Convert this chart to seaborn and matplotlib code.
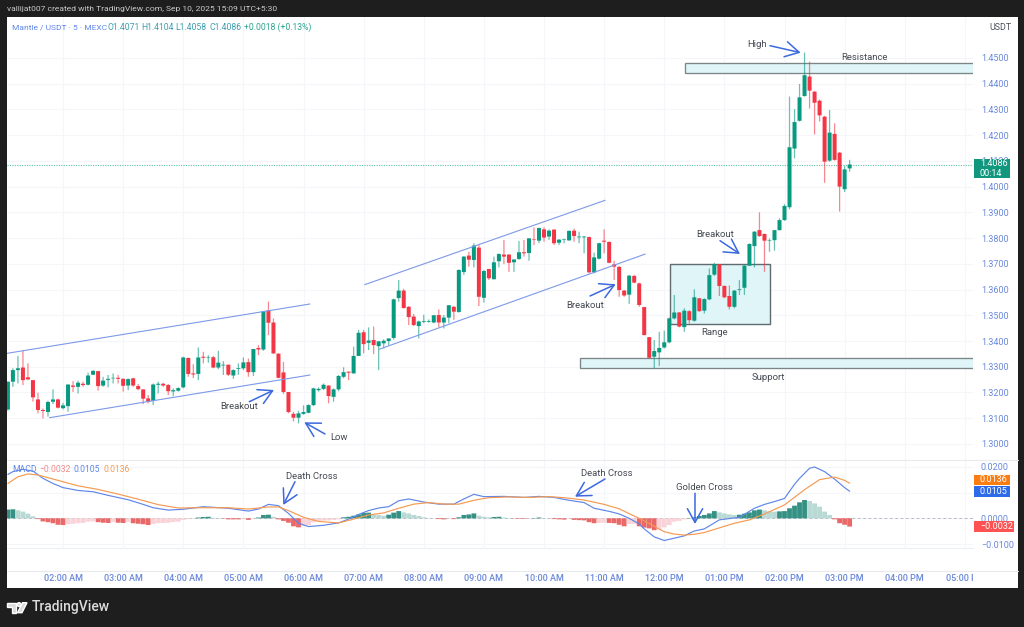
import matplotlib
matplotlib.use("Agg")
import matplotlib.pyplot as plt
from matplotlib.patches import Rectangle, Polygon, Circle
from matplotlib.transforms import Bbox
import numpy as np
import pandas as pd
import seaborn as sns

# candles, 5 minute bars (first bar is 01:05 AM)
opens = [
    1.3134,1.3242,1.3287,1.3297,1.3259,1.3248,1.3173,1.3132,1.3124,1.3164,
    1.3173,1.3139,1.3147,1.3227,1.3222,1.3234,1.3230,1.3269,1.3283,1.3227,
    1.3249,1.3255,1.3257,1.3253,1.3227,1.3255,1.3225,1.3212,1.3177,1.3167,
    1.3230,1.3234,1.3229,1.3204,1.3207,1.3220,1.3334,1.3274,1.3272,1.3339,
    1.3334,1.3337,1.3297,1.3305,1.3308,1.3266,1.3292,1.3294,1.3318,1.3279,
    1.3373,1.3367,1.3519,1.3472,1.3351,1.3278,1.3202,1.3117,1.3102,1.3117,
    1.3121,1.3151,1.3209,1.3214,1.3227,1.3183,
    1.3212,1.3261,1.3281,1.3274,1.3342,1.3434,1.3393,1.3404,1.3380,1.3391,
    1.3400,1.3412,1.3567,1.3596,1.3533,1.3495,1.3458,1.3475,1.3475,1.3472,
    1.3501,1.3472,1.3491,1.3533,1.3513,1.3668,1.3732,1.3715,1.3763,1.3568,
    1.3680,1.3640,1.3710,1.3736,1.3736,1.3706,1.3719,1.3745,1.3742,1.3796,
    1.3790,1.3834,1.3806,1.3833,1.3782,1.3793,1.3791,1.3829,1.3803,1.3803,
    1.3804,1.3667,1.3720,1.3790,1.3785,1.3698,1.3688,1.3596,1.3580,1.3653,
    1.3624,1.3532,
    1.3415,1.3339,1.3356,1.3375,1.3395,1.3488,1.3511,1.3454,1.3516,1.3479,
    1.3566,1.3518,1.3562,1.3658,1.3698,1.3614,1.3575,1.3533,1.3598,1.3607,
    1.3693,1.3769,1.3831,1.3816,1.3790,1.3792,1.3831,1.3870,
    1.3920,1.4148,1.4256,1.4352,1.4428,1.4369,1.4334,1.4272,1.4101,1.4205,1.4132,1.3990,1.4071,
]
highs = [
    1.3242,1.3294,1.3342,1.3365,1.3313,1.3248,1.3199,1.3138,1.3168,1.3212,
    1.3176,1.3160,1.3231,1.3244,1.3246,1.3242,1.3277,1.3287,1.3283,1.3261,
    1.3268,1.3274,1.3268,1.3255,1.3255,1.3257,1.3233,1.3212,1.3190,1.3235,
    1.3242,1.3238,1.3233,1.3216,1.3220,1.3339,1.3336,1.3310,1.3375,1.3358,
    1.3345,1.3342,1.3362,1.3322,1.3308,1.3290,1.3313,1.3336,1.3332,1.3369,
    1.3384,1.3516,1.3553,1.3488,1.3352,1.3319,1.3202,1.3125,1.3129,1.3150,
    1.3154,1.3218,1.3220,1.3235,1.3227,1.3216,
    1.3268,1.3298,1.3281,1.3378,1.3443,1.3443,1.3453,1.3456,1.3399,1.3406,
    1.3410,1.3565,1.3637,1.3603,1.3536,1.3505,1.3479,1.3502,1.3484,1.3502,
    1.3523,1.3501,1.3540,1.3536,1.3679,1.3730,1.3747,1.3780,1.3773,1.3676,
    1.3680,1.3728,1.3741,1.3793,1.3738,1.3717,1.3789,1.3793,1.3799,1.3841,
    1.3841,1.3842,1.3834,1.3834,1.3796,1.3798,1.3830,1.3837,1.3825,1.3808,
    1.3806,1.3743,1.3782,1.3834,1.3787,1.3712,1.3692,1.3598,1.3657,1.3657,
    1.3627,1.3533,
    1.3416,1.3404,1.3436,1.3440,1.3491,1.3579,1.3513,1.3527,1.3520,1.3601,
    1.3568,1.3566,1.3682,1.3704,1.3699,1.3616,1.3616,1.3598,1.3637,1.3695,
    1.3780,1.3827,1.3900,1.3818,1.3799,1.3831,1.3877,1.3932,
    1.4350,1.4301,1.4399,1.4521,1.4486,1.4372,1.4339,1.4275,1.4298,1.4246,1.4135,1.4080,1.4104,
]
lows = [
    1.3129,1.3222,1.3235,1.3229,1.3248,1.3164,1.3119,1.3099,1.3106,1.3155,
    1.3138,1.3134,1.3125,1.3202,1.3196,1.3222,1.3227,1.3268,1.3207,1.3222,
    1.3220,1.3235,1.3235,1.3203,1.3209,1.3222,1.3209,1.3155,1.3158,1.3151,
    1.3196,1.3222,1.3190,1.3186,1.3203,1.3216,1.3261,1.3256,1.3248,1.3313,
    1.3316,1.3294,1.3290,1.3268,1.3264,1.3253,1.3269,1.3287,1.3261,1.3264,
    1.3345,1.3362,1.3423,1.3349,1.3255,1.3194,1.3119,1.3087,1.3080,1.3113,
    1.3119,1.3147,1.3203,1.3209,1.3158,1.3164,
    1.3205,1.3255,1.3248,1.3274,1.3342,1.3352,1.3365,1.3349,1.3287,1.3371,
    1.3384,1.3406,1.3553,1.3527,1.3462,1.3458,1.3410,1.3469,1.3471,1.3469,
    1.3453,1.3449,1.3469,1.3482,1.3510,1.3657,1.3689,1.3686,1.3536,1.3549,
    1.3637,1.3640,1.3686,1.3699,1.3669,1.3669,1.3715,1.3728,1.3712,1.3773,
    1.3780,1.3786,1.3793,1.3773,1.3773,1.3780,1.3790,1.3786,1.3780,1.3741,
    1.3663,1.3663,1.3717,1.3741,1.3702,1.3637,1.3572,1.3572,1.3544,1.3624,
    1.3533,1.3422,
    1.3332,1.3294,1.3303,1.3371,1.3391,1.3484,1.3453,1.3436,1.3468,1.3475,
    1.3514,1.3507,1.3559,1.3653,1.3575,1.3566,1.3523,1.3527,1.3579,1.3579,
    1.3691,1.3686,1.3805,1.3669,1.3747,1.3751,1.3829,1.3867,
    1.3912,1.4110,1.4253,1.4350,1.4304,1.4203,1.4253,1.4015,1.4097,1.4101,1.3903,1.3979,1.4058,
]
closes = [
    1.3242,1.3287,1.3294,1.3248,1.3251,1.3181,1.3132,1.3128,1.3163,1.3173,
    1.3141,1.3150,1.3231,1.3222,1.3238,1.3229,1.3266,1.3284,1.3225,1.3246,
    1.3253,1.3257,1.3253,1.3226,1.3252,1.3227,1.3213,1.3176,1.3164,1.3231,
    1.3234,1.3227,1.3205,1.3209,1.3217,1.3336,1.3272,1.3270,1.3336,1.3335,
    1.3336,1.3297,1.3316,1.3308,1.3269,1.3287,1.3295,1.3317,1.3279,1.3369,
    1.3367,1.3516,1.3471,1.3352,1.3257,1.3202,1.3124,1.3102,1.3119,1.3124,
    1.3151,1.3216,1.3214,1.3230,1.3186,1.3212,
    1.3264,1.3279,1.3277,1.3342,1.3432,1.3388,1.3402,1.3384,1.3399,1.3401,
    1.3410,1.3562,1.3596,1.3528,1.3493,1.3462,1.3476,1.3478,1.3478,1.3500,
    1.3472,1.3491,1.3539,1.3514,1.3676,1.3728,1.3716,1.3771,1.3572,1.3672,
    1.3644,1.3706,1.3738,1.3728,1.3704,1.3717,1.3745,1.3741,1.3799,1.3794,
    1.3839,1.3802,1.3829,1.3780,1.3794,1.3795,1.3828,1.3808,1.3806,1.3806,
    1.3667,1.3725,1.3780,1.3786,1.3704,1.3689,1.3598,1.3577,1.3654,1.3627,
    1.3540,1.3423,
    1.3335,1.3361,1.3373,1.3395,1.3488,1.3511,1.3456,1.3518,1.3481,1.3570,
    1.3516,1.3563,1.3656,1.3699,1.3614,1.3570,1.3533,1.3596,1.3601,1.3693,
    1.3777,1.3825,1.3808,1.3790,1.3792,1.3831,1.3870,1.3925,
    1.4153,1.4251,1.4347,1.4433,1.4373,1.4326,1.4277,1.4097,1.4210,1.4104,1.4000,1.4067,1.4086,
]

# MACD histogram, one value a bar
hist_vals = [
    .0034,.0035,.0031,.0026,.0018,.0008,-.0003,-.0012,-.0015,-.0019,-.0025,-.0026,
    -.0023,-.0021,-.0019,-.0018,-.0013,-.0012,-.0015,-.0017,-.0018,-.0014,-.0017,-.0018,
    -.0014,-.0019,-.0021,-.0023,-.0026,-.0022,-.0019,-.0018,-.0017,-.0014,-.0013,-.0006,
    -.0003,-.0001,.0003,.0005,.0006,.0002,.0001,-.0001,-.0004,-.0004,-.0004,-.0003,
    -.0006,-.0001,.0003,.0013,.0014,.0006,-.0004,-.0010,-.0017,-.0031,-.0035,-.0028,
    -.0026,-.0015,-.0010,-.0009,-.0008,-.0006,-.0004,
    .0004,.0006,.0010,.0015,.0021,.0022,.0014,.0013,.0010,.0014,.0022,.0028,
    .0023,.0019,.0013,.0009,.0004,.0001,.0000,-.0003,-.0004,-.0001,-.0003,.0004,
    .0013,.0015,.0019,.0010,.0006,.0004,.0005,.0006,.0003,.0001,-.0001,-.0002,
    -.0002,-.0001,.0001,.0003,.0001,.0000,-.0003,-.0004,-.0005,-.0001,-.0006,-.0007,
    -.0008,-.0015,-.0019,-.0018,-.0017,-.0018,-.0019,-.0025,-.0031,-.0022,-.0021,-.0031,
    -.0036,-.0039,-.0046,-.0043,-.0035,-.0026,-.0013,-.0010,-.0004,.0001,.0004,.0009,
    .0013,.0019,.0028,.0023,.0019,.0015,.0013,.0014,.0018,.0023,.0031,.0034,
    .0031,.0027,.0026,.0027,.0028,.0039,.0049,.0062,.0071,.0067,.0058,.0045,
    .0026,.0013,-.0004,-.0019,-.0025,-.0032,
]

# MACD and signal lines, read at the bends
macd_bars = [-11,-10,-8,-6,-4,-2,0,3,6,9,13,16,18,21,24,28,33,37,39,41,43,45,47,49,52,55,
             57,59,61,63,65,67,69,72,75,78,80,82,84,88,92,95,98,101,104,106,109,111,113,115,
             116,118,120,122,124,126,128,131,135,138,140,142,144,146,147,149,150,152,154,156,157]
macd_vals = [.0170,.0181,.0190,.0183,.0155,.0135,.0119,.0108,.0103,.0089,.0072,.0054,.0041,.0032,.0035,
             .0045,.0039,.0028,.0036,.0054,.0049,.0019,-.0019,-.0032,-.0027,-.0018,
             -.0003,.0015,.0030,.0040,.0045,.0068,.0075,.0063,.0055,.0055,.0075,.0093,.0084,.0085,
             .0081,.0085,.0081,.0070,.0061,.0039,.0027,.0017,.0000,-.0022,
             -.0041,-.0072,-.0086,-.0077,-.0068,-.0049,-.0041,-.0006,.0004,.0039,.0054,.0065,.0077,
             .0132,.0155,.0194,.0199,.0181,.0152,.0119,.0105]
signal_bars = [-11,-9,-7,-5,-1,3,7,11,15,19,23,27,33,37,41,43,45,48,51,55,
               58,61,64,67,70,73,76,79,82,85,89,93,97,100,104,108,111,113,115,116,118,120,
               122,124,126,128,130,134,137,140,144,148,151,154,156,157]
signal_vals = [.0135,.0161,.0172,.0168,.0147,.0126,.0112,.0094,.0074,.0053,.0040,.0041,.0041,.0036,
               .0044,.0044,.0030,.0004,-.0012,-.0018,
               -.0003,.0013,.0021,.0039,.0055,.0061,.0055,.0055,.0070,.0080,.0083,.0081,.0084,.0080,
               .0071,.0054,.0037,.0018,.0000,-.0010,-.0031,-.0052,
               -.0061,-.0065,-.0062,-.0055,-.0043,-.0019,-.0006,.0017,.0052,.0111,.0150,.0160,.0147,.0136]

price_ticks = [1.30,1.31,1.32,1.33,1.34,1.35,1.36,1.37,1.38,1.39,1.40,1.41,1.42,1.43,1.44,1.45]
macd_ticks = [-0.01, 0.0, 0.01, 0.02]
hour_labels = ["02:00 AM","03:00 AM","04:00 AM","05:00 AM","06:00 AM","07:00 AM","08:00 AM","09:00 AM",
               "10:00 AM","11:00 AM","12:00 PM","01:00 PM","02:00 PM","03:00 PM","04:00 PM","05:00 PM"]
hour_bars = [12*n for n in range(len(hour_labels))]

last_price = 1.4086

# channels and zones, (bar, price)
channel_lines = [
    ((-11.2, 1.3352), (49.3, 1.3544)),
    ((-2.7, 1.3102), (49.3, 1.3268)),
    ((60.2, 1.3619), (108.2, 1.3947)),
    ((63.1, 1.3368), (116.2, 1.3738)),
]
resistance_zone = (124.2, 1.4441, 1.4479)
support_zone = (103.2, 1.3294, 1.3333)
range_box = (121.2, 141.1, 1.3466, 1.3699)

UP = "#089981"
DOWN = "#f23645"
BLUE_TXT = "#6a88dc"
ARROW = "#3c68e0"
NOTE = "#454a52"
GRID = "#f4f6fa"

sns.set_theme(style="white")
plt.rcParams["font.family"] = ["Roboto", "DejaVu Sans"]

W, H = 1024, 627
fig = plt.figure(figsize=(W/100, H/100), dpi=100, facecolor="#1e1e1e")


def rect(l, t, r, b):
    return [l/W, 1 - b/H, (r-l)/W, (b-t)/H]


panel = fig.add_axes(rect(7, 17, 1018, 588), facecolor="white")
panel.set_xticks([]); panel.set_yticks([])
sns.despine(ax=panel, left=True, bottom=True)

x_range = (-11.18, 181.62)

# price pane
ax = fig.add_axes(rect(7, 17, 973, 460), facecolor="white")
bars = np.arange(len(closes)) - 11
df = pd.DataFrame({"bar": bars, "open": opens, "high": highs, "low": lows, "close": closes})
df["col"] = np.where(df.close >= df.open, UP, DOWN)
wicks = ax.vlines(df.bar, df.low, df.high, colors=df.col, lw=0.9, alpha=0.6, zorder=3)
wicks.set_snap(False)
bodies = ax.bar(df.bar, (df.close - df.open).abs().clip(lower=0.00012), bottom=df[["open", "close"]].min(axis=1),
                width=0.8, color=df.col, zorder=4, linewidth=0)
for b in bodies:
    b.set_snap(False)
ax.axhline(last_price, color="#5cc2ae", lw=0.8, ls=(0, (1, 1.2)), zorder=2)

for (x0, y0), (x1, y1) in channel_lines:
    ax.plot([x0, x1], [y0, y1], color="#7d99e8", lw=0.8, zorder=5)
for x0, lo, hi in [resistance_zone, support_zone]:
    ax.add_patch(Rectangle((x0, lo), 200, hi-lo, facecolor="#dff5f8", edgecolor="#7a8688", lw=0.95, zorder=1))
ax.add_patch(Rectangle((range_box[0], range_box[2]), range_box[1]-range_box[0], range_box[3]-range_box[2],
                       facecolor="#dff5f8", edgecolor="#5f6b6d", lw=1.0, zorder=1))

ax.set_xlim(*x_range)
ax.set_ylim(1.29376, 1.46593)
ax.set_xticks(hour_bars)
ax.set_yticks(price_ticks)
ax.set_yticklabels(["%.4f" % t for t in price_ticks])
ax.yaxis.tick_right()
ax.tick_params(axis="y", length=0, pad=5.6, labelsize=6.5, labelcolor=BLUE_TXT)
ax.tick_params(axis="x", length=0, labelbottom=False)
ax.grid(True, color=GRID, lw=0.8)
ax.set_axisbelow(True)
sns.despine(ax=ax, left=True, bottom=True, top=True, right=True)

# MACD pane
ax2 = fig.add_axes(rect(7, 460, 973, 548), facecolor="white")
hist = np.array(hist_vals)
prev = np.r_[hist[0]-1, hist[:-1]]
state = np.where(hist >= 0, np.where(prev < hist, "up_strong", "up_weak"),
                 np.where(prev < hist, "down_weak", "down_strong"))
hdf = pd.DataFrame({"bar": bars, "hist": hist, "state": state})
sns.barplot(data=hdf, x="bar", y="hist", hue="state", native_scale=True, dodge=False, legend=False, width=0.96,
            palette={"up_strong": "#26a08f", "up_weak": "#b2dfd8", "down_weak": "#ffcdd2", "down_strong": "#ff5252"},
            linewidth=0, ax=ax2, zorder=3)
for p in ax2.patches:
    p.set_snap(False)
ax2.axhline(0, color="#b8bcc4", lw=0.7, ls=(0, (3, 2.5)), zorder=2)
sns.lineplot(x=macd_bars, y=macd_vals, color="#5f86e8", lw=0.85, estimator=None, ax=ax2, zorder=4)
sns.lineplot(x=signal_bars, y=signal_vals, color="#f59a52", lw=0.85, estimator=None, ax=ax2, zorder=5)
ax2.set_xlim(*x_range)
ax2.set_ylim(-0.01151, 0.02261)
ax2.set_xlabel(""); ax2.set_ylabel("")
ax2.set_xticks(hour_bars)
ax2.set_xticklabels(hour_labels)
ax2.set_yticks(macd_ticks)
ax2.set_yticklabels(["\u22120.0100", "0.0000", "", "0.0200"])
ax2.yaxis.tick_right()
ax2.tick_params(axis="y", length=0, pad=5.6, labelsize=6.5, labelcolor=BLUE_TXT)
ax2.tick_params(axis="x", length=0, pad=18.5, labelsize=6.5, labelcolor=BLUE_TXT)
for lab in ax2.get_xticklabels():
    lab.set_fontweight("medium")
ax2.get_xticklabels()[-1].set_clip_box(Bbox([[0, 0], [973, H]]))
ax2.get_xticklabels()[-1].set_clip_on(True)
ax2.grid(True, color=GRID, lw=0.8)
ax2.set_axisbelow(True)
sns.despine(ax=ax2, left=True, top=True, right=True, bottom=True)

# everything placed by hand on the screen goes on top, in pixels
ov = fig.add_axes([0, 0, 1, 1], zorder=10)
ov.set_xlim(0, W); ov.set_ylim(H, 0)
ov.axis("off")

ov.plot([7, 1018], [459.7, 459.7], color="#e8eaee", lw=0.8)
ov.plot([7, 973], [548.3, 548.3], color="#eceef2", lw=0.8)
ov.plot([7, 1018], [570.5, 570.5], color="#e8eaee", lw=0.8)


def note(x, y, s, **kw):
    ov.text(x, y, s, ha="center", va="center", fontsize=6.8, color=NOTE, **kw)


def arrow(x0, y0, x1, y1):
    ov.annotate("", xy=(x1, y1), xytext=(x0, y0),
                arrowprops=dict(arrowstyle="->,head_length=0.9,head_width=0.5", color=ARROW, lw=1.1,
                                shrinkA=0, shrinkB=0, mutation_scale=11))


for x, y, s in [(239.3, 406.7, "Breakout"), (339, 437, "Low"), (585, 305.7, "Breakout"),
                (714.7, 332.3, "Range"), (768, 378, "Support"), (864, 58, "Resistance"),
                (756.7, 44.7, "High"), (715.3, 234.3, "Breakout"), (311.7, 476.7, "Death Cross"),
                (606.7, 473.3, "Death Cross"), (704.3, 488, "Golden Cross")]:
    note(x, y, s)

arrow(249.3, 401.7, 274, 390)
arrow(325, 434, 304.3, 422.3)
arrow(295, 481.7, 283.3, 505)
arrow(590, 296, 615.7, 284.3)
arrow(770, 45.7, 800.7, 52.7)
arrow(720, 240.7, 740, 254)
arrow(605, 479, 575, 496.7)
arrow(695, 493.3, 695, 524)

# header strip
ov.text(7, 9.5, "vallijat007 created with TradingView.com, Sep 10, 2025 15:09 UTC+5:30",
        fontsize=6.1, color="#c9c9c9", va="center")
ov.text(12, 27, "Mantle / USDT \u00b7 5 \u00b7 MEXC", fontsize=6.0, color="#5f86e8", va="center")
for x, s in [(108, "O1.4071"), (141, "H1.4104"), (175, "L1.4058"), (209, "C1.4086")]:
    ov.text(x, 27, s, fontsize=6.2, color="#3d9db0", va="center")
ov.text(244, 27, "+0.0018 (+0.13%)", fontsize=6.2, color="#2ba58f", va="center")
ov.text(1000, 28, "USDT", fontsize=6.4, color="#4a4f57", ha="center", va="center")

# MACD legend
ov.text(12, 470, "MACD", fontsize=6.2, color="#5f86e8", va="center")
ov.text(39, 470, "\u22120.0032", fontsize=6.2, color="#f08b8b", va="center")
ov.text(74, 470, "0.0105", fontsize=6.2, color="#5f86e8", va="center")
ov.text(103, 470, "0.0136", fontsize=6.2, color="#f59a52", va="center")


def tag(l, t, r, b, col, lines):
    ov.add_patch(Rectangle((l, t), r-l, b-t, facecolor=col, edgecolor="none"))
    step = (b-t)/len(lines)
    for n, s in enumerate(lines):
        ov.text(980, t + step*(n+0.5), s, fontsize=6.5, color="white", va="center", ha="left")


tag(974, 159, 1009.5, 178, "#12977f", ["1.4086", "00:14"])
tag(974, 475, 1010, 485, "#fb7d12", ["0.0136"])
tag(974, 486, 1010, 496.7, "#2f6be8", ["0.0105"])
tag(974, 521, 1014, 532, "#ff5252", ["\u22120.0032"])

# footer logo
ov.add_patch(Polygon([(7.3, 602.7), (16, 602.7), (16, 612.7), (12, 612.7), (12, 606.5), (7.3, 606.5)],
                     facecolor="#dcdcdc"))
ov.add_patch(Circle((19, 604.6), 1.9, facecolor="#dcdcdc"))
ov.add_patch(Polygon([(22.5, 602.7), (27, 602.7), (22, 612.7), (17.5, 612.7)], facecolor="#dcdcdc"))
ov.text(32, 607.5, "TradingView", fontsize=10, fontweight="medium", color="#dcdcdc", va="center")

fig.savefig("out.png", dpi=100, facecolor=fig.get_facecolor())
